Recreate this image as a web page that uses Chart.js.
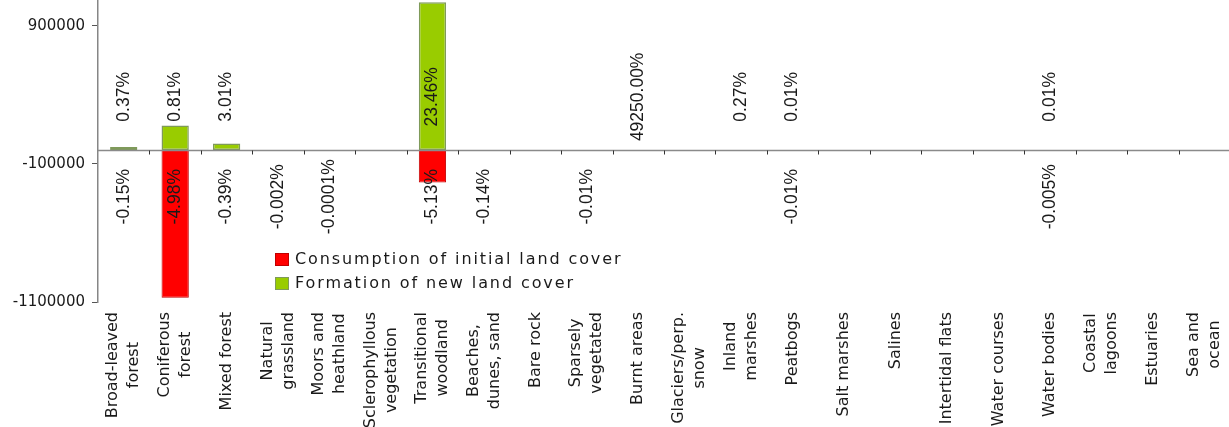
<!DOCTYPE html>
<html>
<head>
  <script src="https://cdn.jsdelivr.net/npm/chart.js"></script>
  <style>
    body { margin: 0; overflow: hidden; background: #fff; }
  </style>
</head>
<body>
  <div style="width: 1230px; height: 427px; position: relative;">
    <canvas id="landChart"></canvas>
  </div>

  <script>
    // categories (label lines as shown under the axis)
    const categories = [
      ['Broad-leaved', 'forest'], ['Coniferous', 'forest'], ['Mixed forest'],
      ['Natural', 'grassland'], ['Moors and', 'heathland'], ['Sclerophyllous', 'vegetation'],
      ['Transitional', 'woodland'], ['Beaches,', 'dunes, sand'], ['Bare rock'],
      ['Sparsely', 'vegetated'], ['Burnt areas'], ['Glaciers/perp.', 'snow'],
      ['Inland', 'marshes'], ['Peatbogs'], ['Salt marshes'], ['Salines'],
      ['Intertidal flats'], ['Water courses'], ['Water bodies'], ['Coastal', 'lagoons'],
      ['Estuaries'], ['Sea and', 'ocean']
    ];

    // series values (ha)
    const consumption = [-1000, -1070000, -1000, 0, 0, 0, -235000, -300, 0, -100, 0, 0,
                         0, -100, 0, 0, 0, 0, -100, 0, 0, 0];
    const formation = [22000, 177000, 48000, 0, 0, 0, 1070000, 0, 0, 0, 300, 0,
                       300, 100, 0, 0, 0, 0, 100, 0, 0, 0];

    // percentage labels
    const formationPct = ['0.37%', '0.81%', '3.01%', '', '', '', '23.46%', '', '', '', '49250.00%', '',
                          '0.27%', '0.01%', '', '', '', '', '0.01%', '', '', ''];
    const consumptionPct = ['-0.15%', '-4.98%', '-0.39%', '-0.002%', '-0.0001%', '', '-5.13%', '-0.14%', '', '-0.01%', '', '',
                            '', '-0.01%', '', '', '', '', '-0.005%', '', '', ''];

    const yTicks = [-1100000, -100000, 900000];
    const seriesNames = ['Consumption of initial land cover', 'Formation of new land cover'];

    const redFill = '#ff0000', redBorder = '#c00000';
    const greenFill = '#99cc00', greenBorder = '#7f9a5a';
    const textColor = '#1a1a1a';

    // zero line with category tick marks
    const zeroAxis = {
      id: 'zeroAxis',
      afterDatasetsDraw(chart) {
        const ctx = chart.ctx, x = chart.scales.x, y = chart.scales.y;
        const y0 = Math.round(y.getPixelForValue(0)) + 0.5;
        ctx.save();
        ctx.strokeStyle = '#8a8a8a';
        ctx.lineWidth = 1.5;
        ctx.beginPath();
        ctx.moveTo(chart.chartArea.left, y0);
        ctx.lineTo(chart.chartArea.right, y0);
        ctx.stroke();
        ctx.strokeStyle = '#333';
        ctx.lineWidth = 1;
        for (let i = 1; i < categories.length; i++) {
          const bx = Math.round((x.getPixelForValue(i - 1) + x.getPixelForValue(i)) / 2) + 0.5;
          ctx.beginPath();
          ctx.moveTo(bx, y0);
          ctx.lineTo(bx, y0 + 4);
          ctx.stroke();
        }
        ctx.restore();
      }
    };

    // rotated percentage labels
    const pctLabels = {
      id: 'pctLabels',
      afterDatasetsDraw(chart) {
        const ctx = chart.ctx, x = chart.scales.x, y = chart.scales.y;
        const yPos = y.getPixelForValue(385000);
        const yNeg = y.getPixelForValue(-338000);
        ctx.save();
        ctx.font = '17.5px "Liberation Sans", Arial, sans-serif';
        ctx.fillStyle = textColor;
        ctx.textAlign = 'center';
        ctx.textBaseline = 'middle';
        categories.forEach((_, i) => {
          const px = x.getPixelForValue(i);
          [[formationPct[i], yPos], [consumptionPct[i], yNeg]].forEach(([txt, py]) => {
            if (!txt) return;
            ctx.save();
            ctx.translate(px, py);
            ctx.rotate(-Math.PI / 2);
            ctx.fillText(txt, 0, 0);
            ctx.restore();
          });
        });
        ctx.restore();
      }
    };

    // category labels, lines centred in their block
    const catLabels = {
      id: 'catLabels',
      afterDraw(chart) {
        const ctx = chart.ctx, x = chart.scales.x;
        const top = chart.chartArea.bottom + 10;
        const lineH = 21;
        ctx.save();
        ctx.font = '16px "DejaVu Sans", Verdana, sans-serif';
        ctx.fillStyle = textColor;
        ctx.textAlign = 'center';
        ctx.textBaseline = 'middle';
        categories.forEach((lines, i) => {
          const px = x.getPixelForValue(i);
          const maxW = Math.max(...lines.map(l => ctx.measureText(l).width));
          lines.forEach((line, j) => {
            ctx.save();
            ctx.translate(px + (j - (lines.length - 1) / 2) * lineH, top + maxW / 2);
            ctx.rotate(-Math.PI / 2);
            ctx.fillText(line, 0, 0);
            ctx.restore();
          });
        });
        ctx.restore();
      }
    };

    // legend box inside the plot
    const boxLegend = {
      id: 'boxLegend',
      afterDraw(chart) {
        const ctx = chart.ctx;
        const items = [[seriesNames[0], redFill, redBorder], [seriesNames[1], greenFill, greenBorder]];
        ctx.save();
        ctx.font = '16px "DejaVu Sans", Verdana, sans-serif';
        ctx.letterSpacing = '1.9px';
        ctx.textBaseline = 'middle';
        items.forEach(([name, fill, border], k) => {
          const cy = 259.5 + k * 24;
          ctx.fillStyle = fill;
          ctx.fillRect(275, cy - 6.5, 14, 13);
          ctx.strokeStyle = border;
          ctx.lineWidth = 1;
          ctx.strokeRect(275.5, cy - 6, 13, 12);
          ctx.fillStyle = textColor;
          ctx.fillText(name, 295, cy);
        });
        ctx.restore();
      }
    };

    const ctx = document.getElementById('landChart').getContext('2d');
    new Chart(ctx, {
      type: 'bar',
      data: {
        labels: categories.map(l => l.join(' ')),
        datasets: [{
          label: seriesNames[0],
          data: consumption,
          backgroundColor: redFill,
          borderColor: redBorder,
          borderWidth: 1,
          borderSkipped: false,
          stack: 's'
        }, {
          label: seriesNames[1],
          data: formation,
          backgroundColor: greenFill,
          borderColor: greenBorder,
          borderWidth: 1.5,
          borderSkipped: false,
          stack: 's'
        }]
      },
      options: {
        responsive: true,
        maintainAspectRatio: false,
        animation: false,
        layout: { padding: 0 },
        plugins: {
          legend: { display: false },
          tooltip: { enabled: false }
        },
        datasets: {
          bar: { categoryPercentage: 1, barPercentage: 0.53 }
        },
        scales: {
          x: {
            stacked: true,
            grid: { display: false },
            border: { display: false },
            ticks: { display: false },
            afterFit(scale) {
              scale.height = 125;
              scale.paddingLeft = 0;
              scale.paddingRight = 0;
            }
          },
          y: {
            stacked: true,
            min: -1100000,
            max: 1086000,
            afterBuildTicks(scale) {
              scale.ticks = yTicks.map(v => ({ value: v }));
            },
            grid: {
              drawOnChartArea: false,
              drawTicks: true,
              tickLength: 6,
              color: '#555'
            },
            border: { color: '#868686', width: 1.5 },
            ticks: {
              padding: 7,
              color: textColor,
              font: { family: '"DejaVu Sans", Verdana, sans-serif', size: 15 },
              callback: v => String(v)
            },
            afterFit(scale) {
              scale.width = 98;
              scale.paddingTop = 0;
              scale.paddingBottom = 0;
            }
          }
        }
      },
      plugins: [zeroAxis, pctLabels, catLabels, boxLegend]
    });
  </script>
</body>
</html>
